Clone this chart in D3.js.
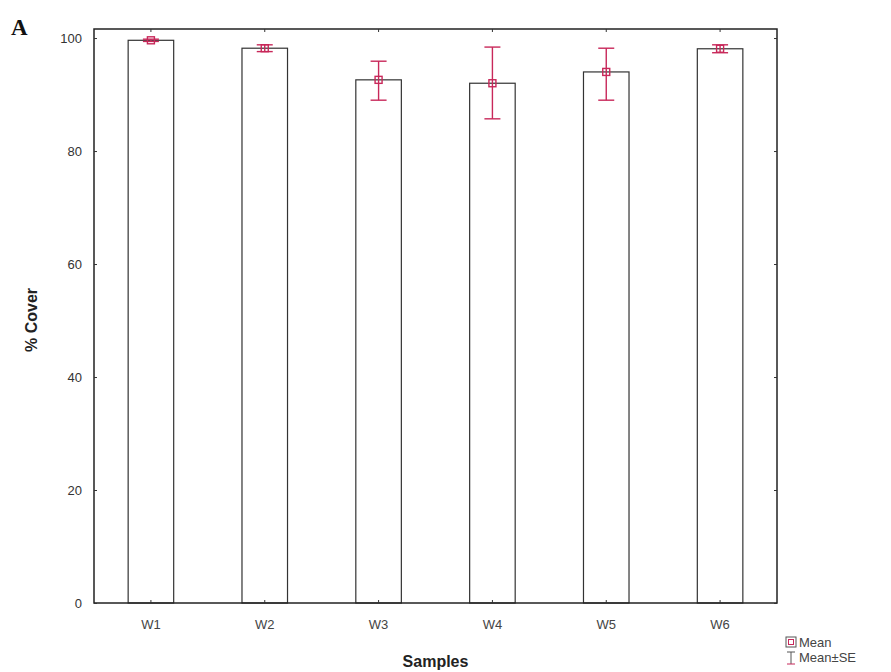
<!DOCTYPE html>
<html><head><meta charset="utf-8">
<script src="https://cdn.jsdelivr.net/npm/d3@7"></script>
<style>body{margin:0;background:#fff}</style>
</head><body>
<svg id="c" width="891" height="672"></svg>
<script>
const categories = ["W1","W2","W3","W4","W5","W6"];
const means = [99.6, 98.2, 92.6, 92.0, 94.0, 98.1];
const seUpper = [99.8, 98.8, 95.9, 98.4, 98.2, 98.8];
const seLower = [99.4, 97.6, 89.0, 85.7, 89.0, 97.4];
const yTicks = [0, 20, 40, 60, 80, 100];

const svg = d3.select("#c");
const m = {l:94, r:114, t:29, b:69};
const W = 891, H = 672;
const x = d3.scaleBand().domain(categories).range([m.l, W - m.r]).paddingInner(0.6).paddingOuter(0.3);
const y = d3.scaleLinear().domain([0, 101.6]).range([H - m.b, m.t]);
const red = "#c8285a";
const font = "Arial, 'Liberation Sans', sans-serif";

// bars
svg.append("g").selectAll("rect").data(categories).join("rect")
  .attr("x", d => x(d)).attr("width", x.bandwidth())
  .attr("y", (d,i) => y(means[i])).attr("height", (d,i) => y(0) - y(means[i]))
  .attr("fill", "#fff").attr("stroke", "#333").attr("stroke-width", 1.2);

// frame
svg.append("rect").attr("x", m.l).attr("y", m.t).attr("width", W - m.r - m.l).attr("height", H - m.b - m.t)
  .attr("fill", "none").attr("stroke", "#222").attr("stroke-width", 1.5);

// axes
const ya = svg.append("g").attr("transform", `translate(${m.l},0)`)
  .call(d3.axisLeft(y).tickValues(yTicks).tickSize(-3).tickPadding(12));
ya.select(".domain").remove();
ya.selectAll("text").attr("font-family", font).attr("font-size", 13).attr("fill", "#333");
ya.selectAll("line").attr("stroke", "#333");

const xa = svg.append("g").attr("transform", `translate(0,${H - m.b})`)
  .call(d3.axisBottom(x).tickSize(-3).tickPadding(17));
xa.select(".domain").remove();
xa.selectAll("text").attr("font-family", font).attr("font-size", 13).attr("fill", "#444");
xa.selectAll("line").attr("stroke", "#333");

const xt = svg.append("g").attr("transform", `translate(0,${m.t})`)
  .call(d3.axisTop(x).tickSize(-3).tickFormat(""));
xt.select(".domain").remove();
xt.selectAll("line").attr("stroke", "#333");

const yr = svg.append("g").attr("transform", `translate(${W - m.r},0)`)
  .call(d3.axisRight(y).tickValues(yTicks).tickSize(-3).tickFormat(""));
yr.select(".domain").remove();
yr.selectAll("line").attr("stroke", "#333");

// error bars
const eb = svg.append("g").attr("stroke", red).attr("stroke-width", 1.4).attr("fill", "none");
categories.forEach((c, i) => {
  const cx = x(c) + x.bandwidth()/2;
  eb.append("line").attr("x1", cx).attr("x2", cx).attr("y1", y(seUpper[i])).attr("y2", y(seLower[i]));
  eb.append("line").attr("x1", cx-8).attr("x2", cx+8).attr("y1", y(seUpper[i])).attr("y2", y(seUpper[i]));
  eb.append("line").attr("x1", cx-8).attr("x2", cx+8).attr("y1", y(seLower[i])).attr("y2", y(seLower[i]));
  eb.append("rect").attr("x", cx-3.5).attr("y", y(means[i])-3.5).attr("width", 7).attr("height", 7);
});

// titles
svg.append("text").attr("x", (m.l + W - m.r)/2).attr("y", 667).attr("text-anchor", "middle")
  .attr("font-family", font).attr("font-weight", "bold").attr("font-size", 16)
  .attr("fill", "#222").text("Samples");
svg.append("text").attr("transform", "translate(37,320) rotate(-90)").attr("text-anchor", "middle")
  .attr("font-family", font).attr("font-weight", "bold").attr("font-size", 16)
  .attr("fill", "#222").text("% Cover");
svg.append("text").attr("x", 11).attr("y", 35)
  .attr("font-family", "'Liberation Serif', 'Times New Roman', serif").attr("font-weight", "bold").attr("font-size", 23)
  .attr("fill", "#111").text("A");

// legend
const lg = svg.append("g").attr("font-family", font).attr("font-size", 13).attr("fill", "#444");
lg.append("rect").attr("x", 786).attr("y", 637).attr("width", 10).attr("height", 10).attr("fill", "none").attr("stroke", "#555");
lg.append("rect").attr("x", 788.5).attr("y", 639.5).attr("width", 5).attr("height", 5).attr("fill", "none").attr("stroke", red);
lg.append("text").attr("x", 799).attr("y", 647).text("Mean");
lg.append("line").attr("x1", 791).attr("x2", 791).attr("y1", 652).attr("y2", 664).attr("stroke", "#555");
lg.append("line").attr("x1", 787).attr("x2", 795).attr("y1", 652).attr("y2", 652).attr("stroke", "#555");
lg.append("line").attr("x1", 787).attr("x2", 795).attr("y1", 664).attr("y2", 664).attr("stroke", red);
lg.append("text").attr("x", 799).attr("y", 662).text("Mean±SE");
</script>
</body></html>
